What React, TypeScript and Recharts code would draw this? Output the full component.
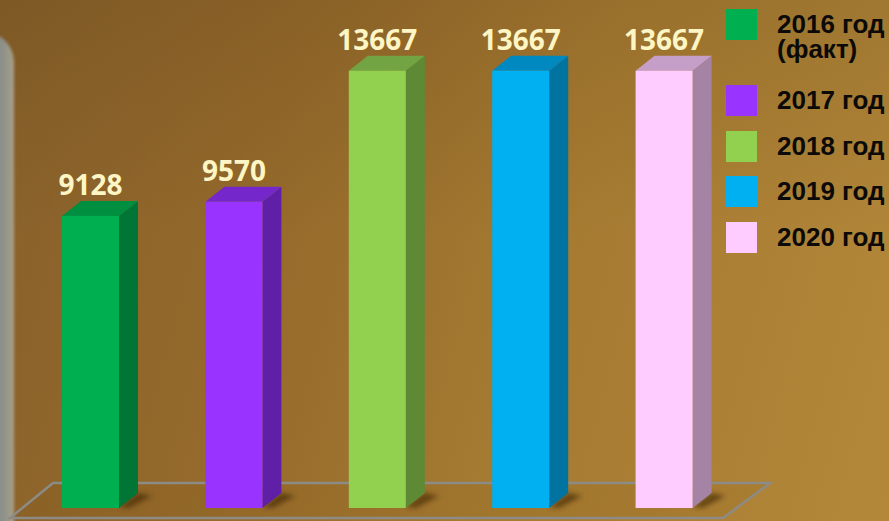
import { Bar, BarChart, Cell, LabelList, XAxis, YAxis } from "recharts";

// data
const years = ["2016 год\n(факт)", "2017 год", "2018 год", "2019 год", "2020 год"];
const values = [9128, 9570, 13667, 13667, 13667];

// face colours of the 3D boxes: front / right side / top
const FRONT = ["#00b050", "#9933ff", "#92d050", "#00b0f0", "#ffccff"];
const SIDE = ["#007535", "#5f1fa6", "#5f8a35", "#0073a0", "#a483a5"];
const TOP = ["#008f40", "#7428cc", "#72a443", "#0089c0", "#c59fc7"];

const W = 889;
const H = 521;
const DX = 19; // box depth, horizontal
const DY = 15; // box depth, vertical

const table = years.map((year, i) => ({ year, value: values[i] }));

function Box(props: any) {
  const x = Number(props.x);
  const y = Number(props.y);
  const w = Number(props.width);
  const h = Number(props.height);
  const i = props.index ?? 0;
  if (!(h > 0)) return null;
  const b = y + h;
  const r = x + w;
  return (
    <g>
      <polygon
        points={`${r},${b - 1} ${r + DX},${b - DY} ${r + DX + 14},${b - DY + 3} ${r + 10},${b}`}
        fill="#3a2406"
        opacity={0.6}
        filter="url(#soft)"
      />
      <polygon
        points={`${r},${y} ${r + DX},${y - DY} ${r + DX},${b - DY} ${r},${b}`}
        fill={SIDE[i]}
      />
      <polygon
        points={`${x},${y} ${x + DX},${y - DY} ${r + DX},${y - DY} ${r},${y}`}
        fill={TOP[i]}
      />
      <rect x={x} y={y} width={w} height={h} fill={FRONT[i]} />
    </g>
  );
}

const renderLabel = (p: any) => {
  const x = Number(p.x);
  const y = Number(p.y);
  const w = Number(p.width);
  return (
    <text
      x={x + w / 2}
      y={y - 21}
      textAnchor="middle"
      fill="#fdf6c4"
      fontFamily="'Open Sans', sans-serif"
      fontWeight={700}
      fontSize={28}
    >
      {p.value}
    </text>
  );
};

export default function App() {
  return (
    <div
      style={{
        position: "absolute",
        left: 0,
        top: 0,
        width: W,
        height: H,
        overflow: "hidden",
        background:
          "linear-gradient(105deg, #87602a 0%, #94692b 30%, #a57a31 60%, #b3883a 100%)",
      }}
    >
      {/* dark haze at the top */}
      <div
        style={{
          position: "absolute",
          inset: 0,
          background: "linear-gradient(180deg, rgba(60,35,5,0.12) 0%, rgba(60,35,5,0) 45%)",
        }}
      />
      {/* frame edge on the left */}
      <div
        style={{
          position: "absolute",
          left: -22,
          top: 32,
          width: 36,
          height: 520,
          borderRadius: "0 30px 0 0",
          background: "linear-gradient(90deg, #7c8584 0%, #8e918a 70%, #a8a088 100%)",
          filter: "blur(1.5px)",
        }}
      />
      {/* floor */}
      <svg width={W} height={H} style={{ position: "absolute", left: 0, top: 0 }}>
        <defs>
          <filter id="soft" x="-50%" y="-50%" width="200%" height="200%">
            <feGaussianBlur stdDeviation="2.5" />
          </filter>
        </defs>
        <polygon
          points="53,483 770,483 723,518 10,518"
          fill="rgba(120,80,20,0.12)"
          stroke="#8c8b86"
          strokeWidth={2.5}
        />
      </svg>

      <div style={{ position: "absolute", left: 0, top: 0 }}>
        <BarChart
          width={W}
          height={H}
          data={table}
          margin={{ top: 28, right: 153, left: 19, bottom: 13 }}
        >
          <XAxis dataKey="year" hide />
          <YAxis domain={[0, 15000]} hide />
          <Bar dataKey="value" barSize={57} shape={Box} isAnimationActive={false}>
            {table.map((_, i) => (
              <Cell key={i} fill={FRONT[i]} />
            ))}
            <LabelList dataKey="value" content={renderLabel} />
          </Bar>
        </BarChart>
      </div>

      {/* legend */}
      <div style={{ position: "absolute", left: 726, top: 9 }}>
        {years.map((y, i) => (
          <div
            key={i}
            style={{ display: "flex", alignItems: "flex-start", height: i === 0 ? 76 : 45.5 }}
          >
            <div style={{ width: 31, height: 31, background: FRONT[i], flex: "none" }} />
            <div
              style={{
                marginLeft: 20,
                marginTop: 3,
                whiteSpace: "pre-line",
                fontFamily: "'Liberation Sans', Arial, sans-serif",
                fontWeight: 700,
                fontSize: 26,
                lineHeight: "25px",
                color: "#0b0a08",
              }}
            >
              {y}
            </div>
          </div>
        ))}
      </div>
    </div>
  );
}
